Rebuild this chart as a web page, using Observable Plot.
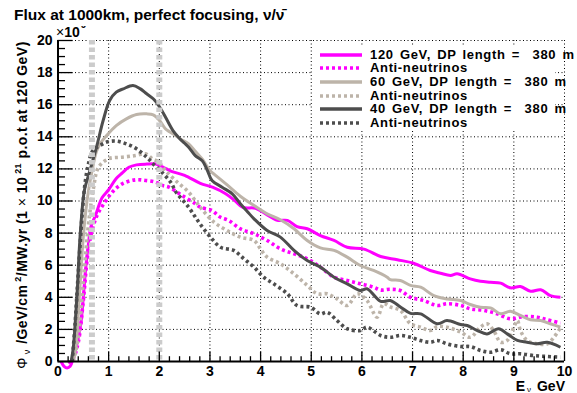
<!DOCTYPE html>
<html>
<head>
<meta charset="utf-8">
<script src="https://cdn.jsdelivr.net/npm/d3@7"></script>
<script src="https://cdn.jsdelivr.net/npm/@observablehq/plot@0.6"></script>
<style>
  body { margin: 0; background: #fff; }
  #chart { position: relative; width: 577px; height: 393px; overflow: hidden;
           font-family: "Liberation Sans", Arial, Helvetica, sans-serif; color: #000; }
  #chart > svg { position: absolute; left: 0; top: 0; }
  .exp { position: absolute; left: 56px; top: 26px; height: 13px; font-size: 14px; line-height: 13px; white-space: pre; }
  .exp b { font-weight: bold; }
  .exp .clip { display: inline-block; position: relative; width: 7px; height: 4px; overflow: hidden; vertical-align: 7px; }
  .exp .clip span { position: absolute; left: 1px; bottom: 0; font-size: 10px; line-height: 10px; font-weight: bold; }
  .title { position: absolute; left: 8px; top: 0; width: 300px; height: 25px; background: #fff;
           font-weight: bold; font-size: 15.5px; line-height: 16px; padding: 7px 0 0 6px; box-sizing: border-box; white-space: pre; }
  .ylab { position: absolute; left: -172px; top: 197px; width: 380px; height: 16px; line-height: 16px;
          text-align: center; font-weight: bold; font-size: 14px; letter-spacing: 0.45px; white-space: pre; transform: rotate(-90deg); }
  .ylab .sym { font-weight: normal; }
  .ylab sub { font-size: 9px; font-weight: normal; vertical-align: -3px; margin: 0 1px 0 3px; }
  .ylab sup { font-size: 9px; vertical-align: 6px; margin-left: 3px; }
  .xlab { position: absolute; right: 12px; top: 380px; height: 13px; font-weight: bold; font-size: 14px; line-height: 13px; white-space: pre; }
  .xlab sub { font-size: 8px; font-weight: normal; vertical-align: -1px; margin: 0 2px; }
  .legend { position: absolute; left: 312px; top: 46px; width: 243px; height: 84px; background: #fff; overflow: visible; }
  .legend .row { position: absolute; left: 0; height: 13px; line-height: 13px; white-space: pre; }
  .legend svg { position: absolute; left: 8px; top: 3px; }
  .legend span { position: absolute; left: 58px; top: 0; font-weight: bold; font-size: 13px; line-height: 13px; letter-spacing: 0.65px; word-spacing: 2px; }
</style>
</head>
<body>
<div id="chart"></div>
<script>
// Neutrino flux at 1000 km, perfect horn focusing. Each series is a list of [E (GeV), flux] points.
const nu120 = [[0.06,0],[0.12,-0.3],[0.18,-0.4],[0.24,-0.3],[0.3,0.2],[0.36,0.9],[0.42,1.8],[0.46,2.6],[0.51,4.4],[0.55,5.9],[0.6,7.3],[0.65,8.4],[0.74,9.1],[0.87,10.2],[1.0,10.7],[1.15,11.4],[1.27,11.75],[1.4,12.1],[1.55,12.25],[1.75,12.3],[1.93,12.3],[2.08,12.1],[2.24,11.85],[2.5,11.6],[2.81,11.1],[3.05,10.86],[3.31,10.45],[3.5,10.0],[3.65,9.6],[3.9,9.55],[4.1,9.2],[4.33,8.8],[4.53,8.79],[4.72,8.4],[4.92,8.27],[5.18,7.85],[5.45,7.54],[5.71,7.12],[6.04,7.0],[6.37,6.54],[6.7,6.34],[7.02,6.12],[7.35,5.67],[7.55,5.5],[7.75,5.36],[7.88,5.46],[8.14,5.15],[8.34,5.0],[8.54,4.94],[8.74,4.88],[8.93,4.59],[9.13,4.67],[9.33,4.38],[9.53,4.47],[9.72,4.11],[9.92,4.0]];
const anti120 = [[0.2,-0.1],[0.3,0.2],[0.4,1.2],[0.5,3.8],[0.58,6.5],[0.66,8.0],[0.77,9.1],[0.9,9.8],[1.07,10.55],[1.27,11.07],[1.53,11.32],[1.73,11.28],[1.93,11.17],[2.06,10.97],[2.19,10.86],[2.45,10.34],[2.71,9.83],[2.81,9.61],[3.04,9.41],[3.2,9.0],[3.37,8.79],[3.6,8.27],[3.87,7.96],[4.13,7.54],[4.39,7.02],[4.66,6.71],[4.92,6.4],[5.18,5.88],[5.45,5.25],[5.71,5.05],[5.97,4.84],[6.23,4.63],[6.37,4.45],[6.56,4.5],[6.76,4.42],[6.96,4.0],[7.22,3.8],[7.49,3.49],[7.68,3.6],[7.95,3.49],[8.14,3.28],[8.41,3.18],[8.67,2.97],[8.93,2.66],[9.2,2.8],[9.46,2.76],[9.66,2.6],[9.92,2.39]];
const nu60 = [[0.3,0],[0.35,0.8],[0.4,3.0],[0.45,5.5],[0.5,7.8],[0.55,9.4],[0.6,10.6],[0.68,12.0],[0.76,13.1],[0.83,13.56],[0.96,14.08],[1.15,14.7],[1.35,15.12],[1.55,15.39],[1.75,15.43],[1.88,15.37],[2.01,15.0],[2.12,14.5],[2.21,14.3],[2.32,14.08],[2.45,13.8],[2.58,13.56],[2.71,13.1],[2.85,12.6],[3.0,11.9],[3.11,11.6],[3.34,11.0],[3.6,10.3],[3.87,9.72],[4.13,9.2],[4.39,8.83],[4.66,8.27],[4.92,7.54],[5.18,7.08],[5.45,6.92],[5.71,6.5],[5.97,5.98],[6.23,5.67],[6.5,5.25],[6.56,5.1],[6.76,5.05],[6.96,4.74],[7.16,4.63],[7.42,4.11],[7.68,3.9],[7.95,3.8],[8.14,3.55],[8.34,3.38],[8.54,3.34],[8.74,2.97],[8.93,3.13],[9.13,2.87],[9.33,2.6],[9.53,2.55],[9.72,2.35],[9.92,2.14]];
const anti60 = [[0.3,0],[0.4,1.5],[0.5,5.0],[0.6,8.5],[0.7,10.8],[0.8,12.1],[1.0,12.63],[1.27,12.73],[1.53,12.83],[1.73,12.94],[1.86,12.63],[1.99,12.42],[2.12,11.9],[2.32,11.28],[2.58,10.55],[2.81,9.6],[3.08,8.68],[3.34,8.16],[3.6,7.75],[3.87,7.54],[4.0,7.0],[4.13,6.5],[4.39,6.09],[4.66,5.46],[4.92,4.74],[5.12,4.22],[5.31,4.22],[5.51,3.9],[5.71,3.49],[5.91,4.22],[6.1,3.8],[6.3,2.76],[6.43,3.6],[6.56,3.4],[6.76,3.18],[6.96,2.35],[7.16,2.14],[7.35,1.93],[7.49,2.18],[7.68,2.14],[7.95,1.83],[8.14,1.51],[8.34,2.14],[8.47,2.35],[8.6,1.93],[8.74,1.2],[8.87,1.31],[9.0,2.14],[9.07,2.55],[9.13,1.93],[9.26,1.31],[9.46,1.1],[9.66,1.1],[9.79,1.5],[9.92,2.1]];
const nu40 = [[0.26,0],[0.3,0.8],[0.34,2.4],[0.38,4.4],[0.43,7.5],[0.5,10.2],[0.53,10.8],[0.63,11.9],[0.76,13.35],[0.89,15.0],[1.02,16.26],[1.15,16.78],[1.29,16.99],[1.48,17.2],[1.62,17.0],[1.75,16.68],[1.88,16.37],[2.01,15.84],[2.14,15.12],[2.27,14.39],[2.4,13.9],[2.5,13.6],[2.58,13.35],[2.71,12.83],[2.85,12.5],[2.95,11.9],[3.04,11.28],[3.24,10.86],[3.44,10.45],[3.6,9.83],[3.75,9.3],[3.87,8.89],[4.13,8.16],[4.39,7.75],[4.66,6.92],[4.92,6.29],[5.18,5.88],[5.45,5.25],[5.71,4.84],[5.97,4.42],[6.1,4.53],[6.37,3.75],[6.56,3.8],[6.76,3.4],[6.96,3.0],[7.16,2.97],[7.49,2.35],[7.68,2.55],[7.95,2.3],[8.08,2.24],[8.28,1.93],[8.47,1.72],[8.7,2.04],[8.87,1.72],[9.07,1.31],[9.26,1.2],[9.46,1.1],[9.66,1.2],[9.92,0.89]];
const anti40 = [[0.28,0],[0.33,2.0],[0.38,4.5],[0.43,7.0],[0.48,9.3],[0.53,11.0],[0.6,12.3],[0.69,13.15],[0.83,13.46],[0.96,13.67],[1.15,13.73],[1.35,13.56],[1.55,13.25],[1.75,12.73],[1.88,12.31],[2.08,11.7],[2.24,11.1],[2.32,10.6],[2.58,9.61],[2.78,8.68],[3.01,7.75],[3.21,7.12],[3.47,6.92],[3.67,6.4],[3.87,5.88],[4.06,5.25],[4.26,4.84],[4.53,4.22],[4.72,3.49],[4.99,3.38],[5.18,2.97],[5.31,3.07],[5.51,2.55],[5.71,2.04],[5.97,1.93],[6.1,2.14],[6.37,1.62],[6.56,1.51],[6.76,1.62],[6.96,1.51],[7.16,1.31],[7.35,1.2],[7.49,1.31],[7.68,1.1],[7.95,0.93],[8.14,0.93],[8.34,0.69],[8.54,0.58],[8.74,0.73],[8.93,0.48],[9.13,0.48],[9.39,0.37],[9.66,0.31],[9.92,0.27]];

const seriesData = [nu120, anti120, nu60, anti60, nu40, anti40];
const seriesLabels = ["120 GeV, DP length =  380 m", "Anti-neutrinos", "60 GeV, DP length =  380 m", "Anti-neutrinos", "40 GeV, DP length =  380 m", "Anti-neutrinos"];
const seriesColors = ["#ff00ff", "#ff00ff", "#bdb4a9", "#bdb4a9", "#4d4d4d", "#4d4d4d"];
const seriesDotted = [false, true, false, true, false, true];

// Energies of the two reference markers (GeV)
const markerEnergies = [0.67, 2.0];

// Axis ticks
const xTicks = d3.range(0, 11, 1);
const yTicks = d3.range(0, 21, 2);
const xMinor = d3.range(0, 10.001, 0.2).filter(v => Math.abs(v - Math.round(v)) > 1e-6);
const yMinor = d3.range(0, 20.001, 0.5).filter(v => Math.abs(v / 2 - Math.round(v / 2)) > 1e-6);

const W = 577, H = 393;
const mL = 57.5, mR = 13, mT = 40, mB = 32;
const xDomain = [0, 10], yDomain = [0, 20];
// convert inward tick lengths (px) into data units of the linear scales
const pxPerX = (W - mL - mR) / (xDomain[1] - xDomain[0]);
const pxPerY = (H - mT - mB) / (yDomain[1] - yDomain[0]);

const dotted = "3,3";
const dottedWidth = 3.6;

const curveMarks = seriesData.map((pts, i) => Plot.line(pts, {
  x: d => d[0], y: d => d[1],
  stroke: seriesColors[i],
  strokeWidth: seriesDotted[i] ? dottedWidth : 3,
  strokeDasharray: seriesDotted[i] ? dotted : null,
  strokeLinecap: "butt",
  strokeLinejoin: "round",
  curve: "catmull-rom"
}));

const chart = Plot.plot({
  width: W, height: H,
  marginLeft: mL, marginRight: mR, marginTop: mT, marginBottom: mB,
  x: {domain: xDomain},
  y: {domain: yDomain},
  style: {fontFamily: "'Liberation Sans', Arial, Helvetica, sans-serif", fontSize: "14px", fontWeight: "bold", background: "transparent", overflow: "visible"},
  marks: [
    Plot.ruleX(xTicks.filter(v => v > 0), {stroke: "#000", strokeWidth: 1, strokeDasharray: "1,2.5"}),
    Plot.ruleY(yTicks.filter(v => v > 0), {stroke: "#000", strokeWidth: 1, strokeDasharray: "1,2.5"}),
    ...curveMarks,
    Plot.ruleX(markerEnergies, {stroke: "#cccccc", strokeWidth: 6, strokeDasharray: "4.5,3"}),
    Plot.ruleX(xTicks, {y1: 0, y2: 9.6 / pxPerY, stroke: "#000", strokeWidth: 1.3}),
    Plot.ruleX(xMinor, {y1: 0, y2: 4.8 / pxPerY, stroke: "#000", strokeWidth: 1.3}),
    Plot.ruleY(yTicks, {x1: 0, x2: 15 / pxPerX, stroke: "#000", strokeWidth: 1.3}),
    Plot.ruleY(yMinor, {x1: 0, x2: 7.5 / pxPerX, stroke: "#000", strokeWidth: 1.3}),
    Plot.ruleX([0], {stroke: "#000", strokeWidth: 2}),
    Plot.ruleY([0], {stroke: "#000", strokeWidth: 2}),
    Plot.axisX({ticks: xTicks, tickSize: 0, tickPadding: 5, label: null, tickFormat: d => String(d)}),
    Plot.axisY({ticks: yTicks, tickSize: 0, tickPadding: 5.5, label: null, tickFormat: d => String(d)})
  ]
});

const root = document.getElementById("chart");
root.appendChild(chart);

// exponent of the y scale; only the foot of the superscript shows, as in a clipped pad
const exp = document.createElement("div");
exp.className = "exp";
exp.innerHTML = '×<b>10</b><span class="clip"><span>9</span></span>';
root.appendChild(exp);

const title = document.createElement("div");
title.className = "title";
title.textContent = "Flux at 1000km, perfect focusing, ν/ν̄";
root.appendChild(title);

const ylab = document.createElement("div");
ylab.className = "ylab";
ylab.innerHTML = '<span class="sym">Φ</span><sub>ν</sub> /GeV/cm<sup>2</sup>/MW.yr (1 <span class="sym">×</span> 10<sup>21</sup> p.o.t at 120 GeV)';
root.appendChild(ylab);

const xlab = document.createElement("div");
xlab.className = "xlab";
xlab.innerHTML = "E<sub>ν</sub> GeV";
root.appendChild(xlab);

// legend
const legend = document.createElement("div");
legend.className = "legend";
seriesLabels.forEach((label, i) => {
  const row = document.createElement("div");
  row.className = "row";
  row.style.top = (1.5 + i * 13.7) + "px";
  row.style.width = "270px";
  const dash = seriesDotted[i] ? ` stroke-dasharray="${dotted}"` : "";
  row.innerHTML = `<svg width="44" height="8"><line x1="0" y1="4" x2="42" y2="4" stroke="${seriesColors[i]}" stroke-width="${seriesDotted[i] ? dottedWidth : 3.5}"${dash}/></svg><span></span>`;
  row.querySelector("span").textContent = label;
  legend.appendChild(row);
});
root.appendChild(legend);
</script>
</body>
</html>
